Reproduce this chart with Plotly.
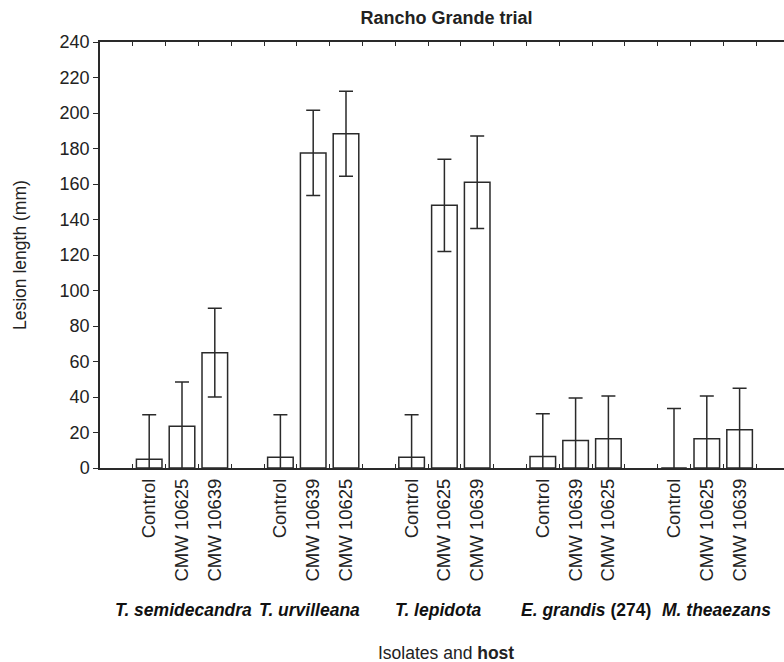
import plotly.graph_objects as go

# ---- data ----
hosts = ["T. semidecandra", "T. urvilleana", "T. lepidota", "E. grandis", "M. theaezans"]
host_suffix = ["", "", "", " (274)", ""]
isolates = [
    ["Control", "CMW 10625", "CMW 10639"],
    ["Control", "CMW 10639", "CMW 10625"],
    ["Control", "CMW 10625", "CMW 10639"],
    ["Control", "CMW 10639", "CMW 10625"],
    ["Control", "CMW 10625", "CMW 10639"],
]
lesion_mean = [
    [5.0, 23.5, 65.0],
    [6.0, 177.5, 188.3],
    [6.0, 148.0, 161.0],
    [6.5, 15.5, 16.5],
    [0.0, 16.5, 21.5],
]
lesion_err = [
    [25.0, 25.0, 25.0],
    [24.0, 24.0, 24.0],
    [24.0, 26.0, 26.0],
    [24.0, 24.0, 24.0],
    [33.5, 24.0, 23.5],
]
host_label_pos = [2.55, 6.4, 10.3, 14.82, 18.8]
y_ticks = list(range(0, 241, 20))

# ---- layout helpers ----
xs, ys, es, labels = [], [], [], []
for g in range(len(hosts)):
    for i in range(3):
        xs.append(4 * g + i + 1.5)
        ys.append(lesion_mean[g][i])
        es.append(lesion_err[g][i])
        labels.append(isolates[g][i])

FONT = "Liberation Sans, Arial, Helvetica, sans-serif"
INK = "#2a2a2a"
XMAX = 684 / 32.8

fig = go.Figure()
fig.add_trace(go.Bar(
    x=xs, y=ys, width=0.78,
    marker=dict(color="white", line=dict(color=INK, width=1.5)),
    error_y=dict(type="data", array=es, visible=True, color=INK, thickness=1.5, width=7),
    showlegend=False, hoverinfo="skip",
))
# invisible trace for label axis
fig.add_trace(go.Scatter(x=xs, y=ys, xaxis="x2", mode="markers",
                         marker=dict(opacity=0), showlegend=False, hoverinfo="skip"))

fig.update_layout(
    width=784, height=662,
    margin=dict(l=100, r=0, t=42, b=194),
    paper_bgcolor="white", plot_bgcolor="white",
    font=dict(family=FONT, size=17, color="#222"),
    title=dict(text="<b>Rancho Grande trial</b>", x=0.5695, xref="container", xanchor="center",
               y=1 - 18 / 662, yref="container", yanchor="middle",
               font=dict(size=18, family=FONT, color="#222")),
    xaxis=dict(range=[0, XMAX], tickvals=list(range(1, 21)), ticktext=[""] * 20,
               ticks="inside", ticklen=4, tickwidth=1.2, tickcolor=INK,
               showline=True, linecolor=INK, linewidth=1.5, mirror="ticks",
               showgrid=False, zeroline=False),
    xaxis2=dict(range=[0, XMAX], overlaying="x", anchor="y", side="bottom",
                tickvals=xs, ticktext=labels, tickangle=-90, ticks="",
                showline=False, showgrid=False, zeroline=False,
                tickfont=dict(size=18.5, family=FONT, color="#222"),
                ticklabelstandoff=6),
    yaxis=dict(range=[0, 240], tickvals=y_ticks, ticks="outside", ticklen=5, tickwidth=1.2,
               tickcolor=INK, showline=True, linecolor=INK, linewidth=1.5,
               showgrid=False, zeroline=False,
               tickfont=dict(size=18, family=FONT, color="#222")),
    yaxis2=dict(range=[0, 240], overlaying="y", side="right", tickvals=y_ticks,
                ticks="inside", ticklen=3, tickwidth=1.2, tickcolor=INK,
                showticklabels=False, showline=False, showgrid=False, zeroline=False),
)

fig.add_annotation(x=(20 - 100) / 684, y=0.5, xref="paper", yref="paper",
                   text="Lesion length (mm)", textangle=-90, showarrow=False,
                   xanchor="center", yanchor="middle",
                   font=dict(size=17.5, family=FONT, color="#222"))

for name, suf, pos in zip(hosts, host_suffix, host_label_pos):
    txt = f"<b><i>{name}</i>{suf}</b>"
    fig.add_annotation(x=pos, y=(468 - 610) / 426, xref="x", yref="paper",
                       text=txt, showarrow=False, xanchor="center", yanchor="middle",
                       font=dict(size=17.5, family=FONT, color="#111"))

fig.add_annotation(x=(446 - 100) / 684, y=(468 - 653) / 426, xref="paper", yref="paper",
                   text="Isolates and <b>host</b>", showarrow=False,
                   xanchor="center", yanchor="middle",
                   font=dict(size=17.5, family=FONT, color="#222"))

fig.write_html("out.html", config={"displayModeBar": False},
               post_script="document.body.style.margin='0';document.body.style.overflow='hidden';")
